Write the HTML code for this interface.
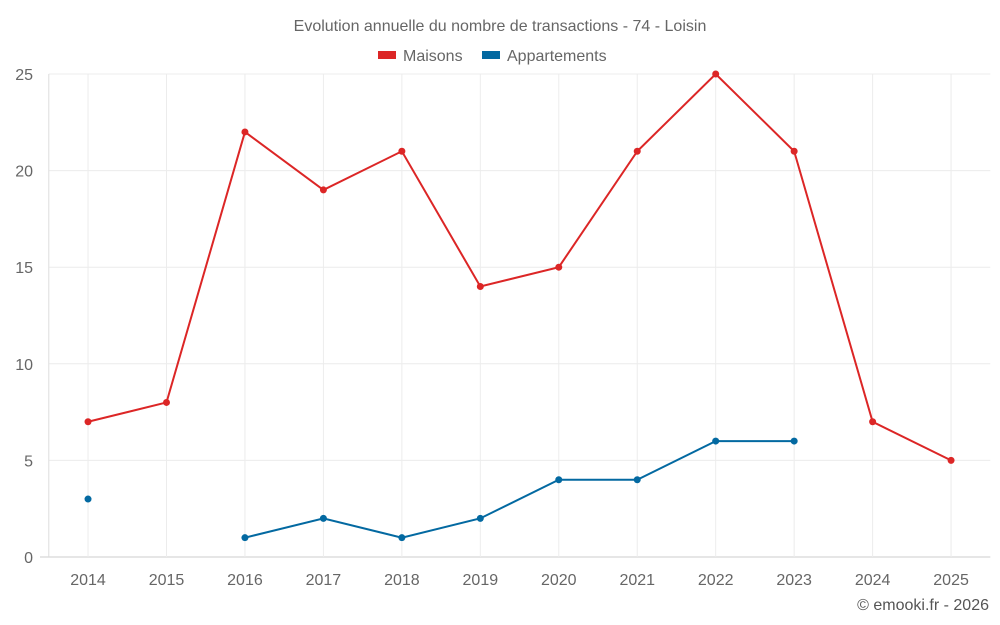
<!DOCTYPE html>
<html><head><meta charset="utf-8">
<style>
html,body{margin:0;padding:0;background:#fff;}
svg{display:block;font-family:"Liberation Sans",sans-serif;}
</style></head>
<body>
<svg id="chart" width="1000" height="625">
<text x="500" y="31" text-anchor="middle" font-size="16" fill="#666">Evolution annuelle du nombre de transactions - 74 - Loisin</text>
<g>
<g><rect x="378" y="51" width="18" height="8" fill="#dc2626"/><text x="403" y="61" font-size="16" fill="#666">Maisons</text></g>
<g><rect x="482" y="51" width="18" height="8" fill="#0369a1"/><text x="507" y="61" font-size="16" fill="#666">Appartements</text></g>
</g>
<g id="grid"></g>
<g id="axes"></g>
<g id="series"></g>
<text x="989" y="610" text-anchor="end" font-size="16" fill="#555">© emooki.fr - 2026</text>
</svg>
<script>
const categories=["2014","2015","2016","2017","2018","2019","2020","2021","2022","2023","2024","2025"];
const maisons=[7,8,22,19,21,14,15,21,25,21,7,5];
const appartements=[3,null,1,2,1,2,4,4,6,6,null,null];
const yTicks=[0,5,10,15,20,25];
const L=48.8,R=990.3,T=74,B=557,yMax=25;
const bw=(R-L)/categories.length;
const x=i=>L+bw*(i+0.5);
const y=v=>B-(v/yMax)*(B-T);
const NS="http://www.w3.org/2000/svg";
function mk(tag,attrs,parent){const e=document.createElementNS(NS,tag);for(const k in attrs)e.setAttribute(k,attrs[k]);parent.appendChild(e);return e;}
const grid=document.getElementById('grid'),axes=document.getElementById('axes'),series=document.getElementById('series');
yTicks.forEach(t=>{
  const l=mk('line',{x1:t===0?40:L,x2:R,y1:y(t),y2:y(t),stroke:t===0?'#ccc':'#ececec','stroke-width':1},grid);
  
  
  const tx=mk('text',{x:33,y:y(t)+6,'text-anchor':'end','font-size':16,fill:'#666'},axes);
  tx.textContent=t;
  
  
});
const ax=mk('line',{x1:L,x2:L,y1:T,y2:B,stroke:'#ddd','stroke-width':1},grid);


categories.forEach((c,i)=>{
  const l=mk('line',{x1:x(i),x2:x(i),y1:T,y2:B,stroke:'#ececec','stroke-width':1},grid);
  
  
  const tx=mk('text',{x:x(i),y:585,'text-anchor':'middle','font-size':16,fill:'#666'},axes);
  tx.textContent=c;
  
  
});
function draw(data,color,name){
  let segs=[],cur=[];
  data.forEach((v,i)=>{if(v==null){if(cur.length)segs.push(cur);cur=[];}else cur.push([x(i),y(v)]);});
  if(cur.length)segs.push(cur);
  segs.forEach(s=>{if(s.length>1){
    const p=mk('polyline',{points:s.map(q=>q.join(',')).join(' '),fill:'none',stroke:color,'stroke-width':2},series);
    
    
  }});
  data.forEach((v,i)=>{if(v==null)return;
    const c=mk('circle',{cx:x(i),cy:y(v),r:3.5,fill:color},series);
    
    
  });
}
draw(maisons,'#dc2626','maisons');
draw(appartements,'#0369a1','appartements');
</script>
</body></html>
